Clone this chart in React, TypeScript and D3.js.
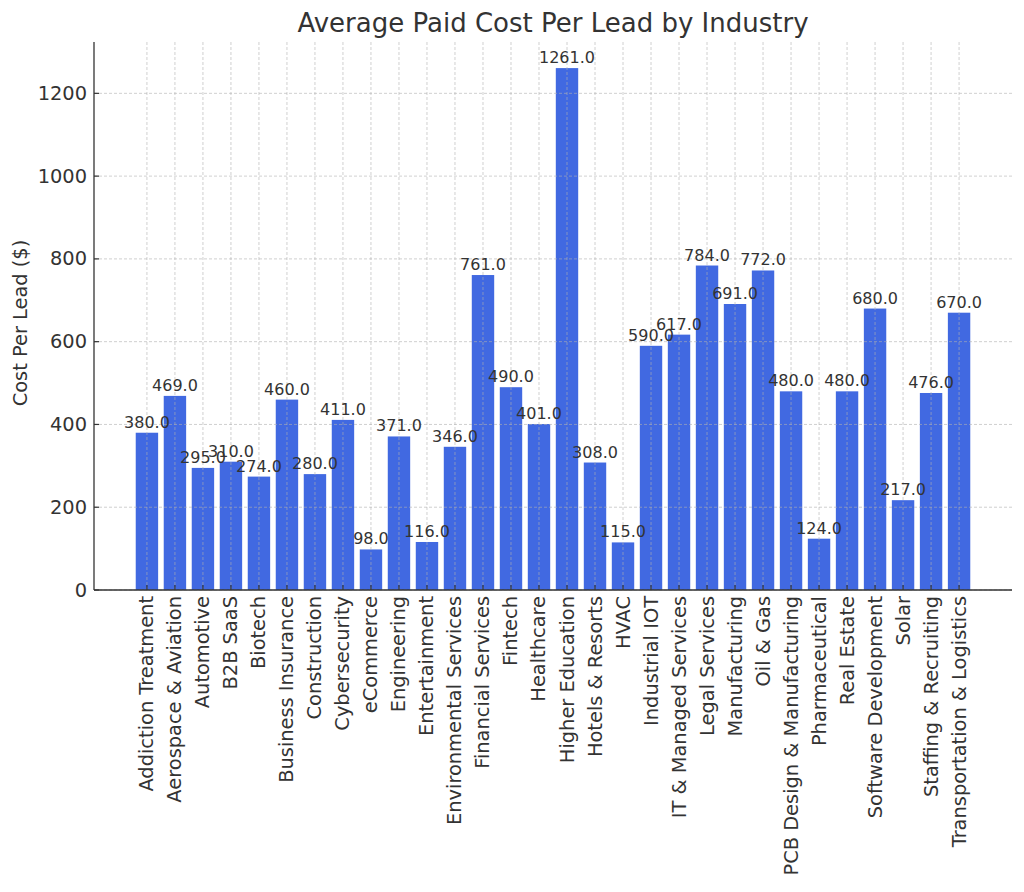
import React from "react";
import * as d3 from "d3";

const industries: string[] = [
  "Addiction Treatment",
  "Aerospace & Aviation",
  "Automotive",
  "B2B SaaS",
  "Biotech",
  "Business Insurance",
  "Construction",
  "Cybersecurity",
  "eCommerce",
  "Engineering",
  "Entertainment",
  "Environmental Services",
  "Financial Services",
  "Fintech",
  "Healthcare",
  "Higher Education",
  "Hotels & Resorts",
  "HVAC",
  "Industrial IOT",
  "IT & Managed Services",
  "Legal Services",
  "Manufacturing",
  "Oil & Gas",
  "PCB Design & Manufacturing",
  "Pharmaceutical",
  "Real Estate",
  "Software Development",
  "Solar",
  "Staffing & Recruiting",
  "Transportation & Logistics",
];

const costPerLead: number[] = [
  380, 469, 295, 310, 274, 460, 280, 411, 98, 371, 116, 346, 761, 490, 401,
  1261, 308, 115, 590, 617, 784, 691, 772, 480, 124, 480, 680, 217, 476, 670,
];

const yTicks: number[] = [0, 200, 400, 600, 800, 1000, 1200];

const W = 1024;
const H = 892;
const left = 94;
const right = 1012;
const top = 42;
const bottom = 590;
const FONT = "DejaVu Sans, sans-serif";
const TEXT = "#333333";

export default function App() {
  const n = industries.length;
  const span = n - 1 + 0.8;
  const pad = span * 0.05;
  const x = d3
    .scaleLinear()
    .domain([-0.4 - pad, n - 1 + 0.4 + pad])
    .range([left, right]);
  const yMax = (d3.max(costPerLead) as number) * 1.05;
  const y = d3.scaleLinear().domain([0, yMax]).range([bottom, top]);
  const bw = x(0.8) - x(0);

  return (
    <div style={{ width: W, height: H, position: "absolute", left: 0, top: 0 }}>
      <svg width={W} height={H} style={{ display: "block", background: "#fff" }}>
        <text
          x={(left + right) / 2}
          y={32}
          textAnchor="middle"
          fontFamily={FONT}
          fontSize={26}
          fill={TEXT}
        >
          Average Paid Cost Per Lead by Industry
        </text>

        {/* bars */}
        {costPerLead.map((v, i) => (
          <rect
            key={"b" + i}
            x={x(i) - bw / 2}
            y={y(v)}
            width={bw}
            height={y(0) - y(v)}
            fill="#4169E1"
          />
        ))}

        {/* grid */}
        <g stroke="#b0b0b0" strokeOpacity={0.6} strokeWidth={1} strokeDasharray="3,2">
          {yTicks.map((t) => (
            <line key={"gy" + t} x1={left} x2={right} y1={y(t)} y2={y(t)} />
          ))}
          {industries.map((_, i) => (
            <line key={"gx" + i} x1={x(i)} x2={x(i)} y1={top} y2={bottom} />
          ))}
        </g>

        {/* value labels */}
        {costPerLead.map((v, i) => (
          <text
            key={"v" + i}
            x={x(i)}
            y={y(v) - 5}
            textAnchor="middle"
            fontFamily={FONT}
            fontSize={16}
            fill={TEXT}
          >
            {v.toFixed(1)}
          </text>
        ))}

        {/* spines */}
        <line x1={left} x2={left} y1={top} y2={bottom} stroke={TEXT} strokeWidth={1.3} />
        <line x1={left} x2={right} y1={bottom} y2={bottom} stroke={TEXT} strokeWidth={1.3} />

        {/* y ticks */}
        {yTicks.map((t) => (
          <g key={"yt" + t}>
            <line x1={left} x2={left + 5} y1={y(t)} y2={y(t)} stroke={TEXT} strokeWidth={1.2} />
            <text
              x={left - 7}
              y={y(t)}
              textAnchor="end"
              dominantBaseline="central"
              fontFamily={FONT}
              fontSize={19.4}
              fill={TEXT}
            >
              {t}
            </text>
          </g>
        ))}

        {/* x ticks */}
        {industries.map((c, i) => (
          <g key={"xt" + i}>
            <line x1={x(i)} x2={x(i)} y1={bottom} y2={bottom - 5} stroke={TEXT} strokeWidth={1.2} />
            <text
              transform={`translate(${x(i)},${bottom + 6}) rotate(-90)`}
              textAnchor="end"
              dominantBaseline="central"
              fontFamily={FONT}
              fontSize={19.4}
              fill={TEXT}
            >
              {c}
            </text>
          </g>
        ))}

        {/* y label */}
        <text
          transform={`translate(27,323) rotate(-90)`}
          textAnchor="middle"
          fontFamily={FONT}
          fontSize={19.4}
          fill={TEXT}
        >
          Cost Per Lead ($)
        </text>
      </svg>
    </div>
  );
}
